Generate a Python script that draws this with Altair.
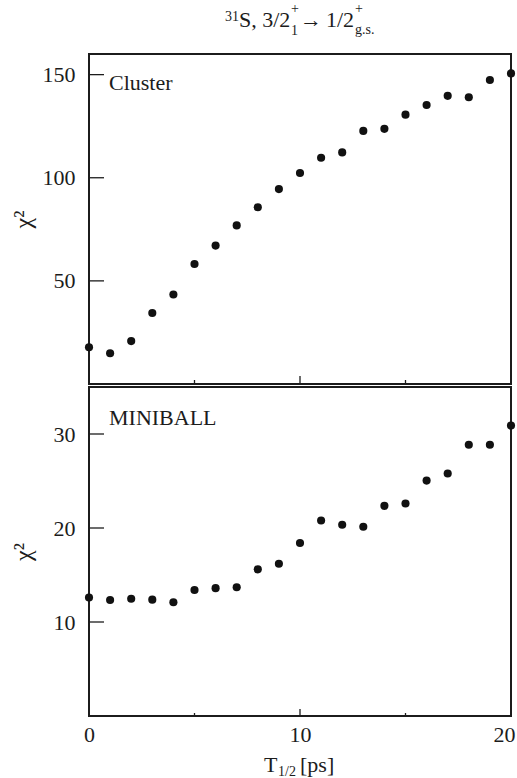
import altair as alt
import pandas as pd

# ---------------- data ----------------
t_half = [0, 1, 2, 3, 4, 5, 6, 7, 8, 9, 10, 11, 12, 13, 14, 15, 16, 17, 18, 19, 20]
chi2_cluster = [17.8, 14.9, 20.8, 34.4, 43.4, 58.2, 67.1, 76.9, 85.7, 94.5, 102.3,
                109.7, 112.3, 122.7, 123.7, 130.6, 135.3, 139.7, 139.0, 147.4, 150.6]
chi2_miniball = [12.6, 12.34, 12.48, 12.38, 12.1, 13.4, 13.6, 13.7, 15.6, 16.2, 18.4,
                 20.8, 20.34, 20.13, 22.36, 22.6, 25.04, 25.8, 28.86, 28.86, 30.9]
x_tick_labels = [0, 10, 20]
x_major_ticks = [10]
x_minor_ticks = [5, 15]
y_ticks_cluster = [50, 100, 150]
y_ticks_miniball = [10, 20, 30]
panel_names = ["Cluster", "MINIBALL"]

FONT = "Liberation Serif"
INK = "#1c1c1c"
W, H1, H2 = 422, 330, 329

xscale = alt.Scale(domain=[0, 20], nice=False, zero=False)
ys1 = alt.Scale(domain=[0, 160], nice=False)
ys2 = alt.Scale(domain=[0, 35], nice=False)


def yaxis(values, title_y):
    return alt.Axis(values=values, ticks=False, domain=False, grid=False,
                    labelFont=FONT, labelFontSize=22, labelColor=INK, labelPadding=14,
                    title="χ²", titleFont=FONT, titleFontSize=24, titleFontWeight="normal",
                    titleColor=INK, titleX=-54, titleY=title_y)


def txt(s, x, y, size, align="left"):
    return alt.Chart(pd.DataFrame({"s": [s]})).mark_text(
        align=align, baseline="alphabetic", font=FONT, fontSize=size, color=INK
    ).encode(x=alt.value(x), y=alt.value(y), text="s:N")


def panel(values, yscale, yticks, height, name, name_y, bottom):
    df = pd.DataFrame({"t": t_half, "chi2": values})
    if bottom:
        xax = alt.Axis(values=x_tick_labels, ticks=False, domain=False, grid=False,
                       labelFont=FONT, labelFontSize=22, labelColor=INK, labelPadding=8,
                       labelAlign=alt.expr("datum.value == 20 ? 'right' : 'center'"),
                       labelOffset=alt.expr("datum.value == 20 ? 4 : 0"),
                       title=None)
        major_len, minor_len = 7, 3
    else:
        xax = None
        major_len, minor_len = 8, 4
    ax = yaxis(yticks, height / 2)
    pts = alt.Chart(df).mark_circle(size=66, color="#111111", opacity=1).encode(
        x=alt.X("t:Q", scale=xscale, axis=xax),
        y=alt.Y("chi2:Q", scale=yscale, axis=ax),
    )
    yt = alt.Chart(pd.DataFrame({"v": yticks})).mark_rule(color=INK, strokeWidth=1.3).encode(
        y=alt.Y("v:Q", scale=yscale, axis=ax), x=alt.value(0), x2=alt.value(15))
    xmaj = alt.Chart(pd.DataFrame({"v": x_major_ticks})).mark_rule(color=INK, strokeWidth=1.3).encode(
        x=alt.X("v:Q", scale=xscale, axis=xax), y=alt.value(height), y2=alt.value(height - major_len))
    xmin = alt.Chart(pd.DataFrame({"v": x_minor_ticks})).mark_rule(color=INK, strokeWidth=1.3).encode(
        x=alt.X("v:Q", scale=xscale, axis=xax), y=alt.value(height), y2=alt.value(height - minor_len))
    layers = [yt, xmaj, xmin, pts, txt(name, 20, name_y, 22)]
    return layers


top_layers = panel(chi2_cluster, ys1, y_ticks_cluster, H1, panel_names[0], 36, False)
# title: 31S, 3/2+_1 -> 1/2+_g.s.
top_layers += [
    txt("31", 136, -33, 14),
    txt("S, 3/2", 150, -27, 22),
    txt("+", 202, -41, 14),
    txt("1", 202, -19, 14),
    txt("→", 211, -27, 22),
    txt("1/2", 237, -27, 22),
    txt("+", 266, -41, 14),
    txt("g.s.", 266, -20, 14),
]
top = alt.layer(*top_layers).properties(width=W, height=H1)

bot_layers = panel(chi2_miniball, ys2, y_ticks_miniball, H2, panel_names[1], 38, True)
bot_layers += [
    txt("T", 175, 385, 22),
    txt("1/2", 189, 389, 14),
    txt("[ps]", 211, 385, 22),
]
bot = alt.layer(*bot_layers).properties(width=W, height=H2)

chart = alt.vconcat(top, bot, spacing=0).properties(
    padding={"left": 10, "top": 1, "right": 0, "bottom": 0}
).configure_view(stroke=INK, strokeWidth=2).configure_concat(spacing=0)

chart.save("out.html", embed_options={"renderer": "svg", "actions": False})
